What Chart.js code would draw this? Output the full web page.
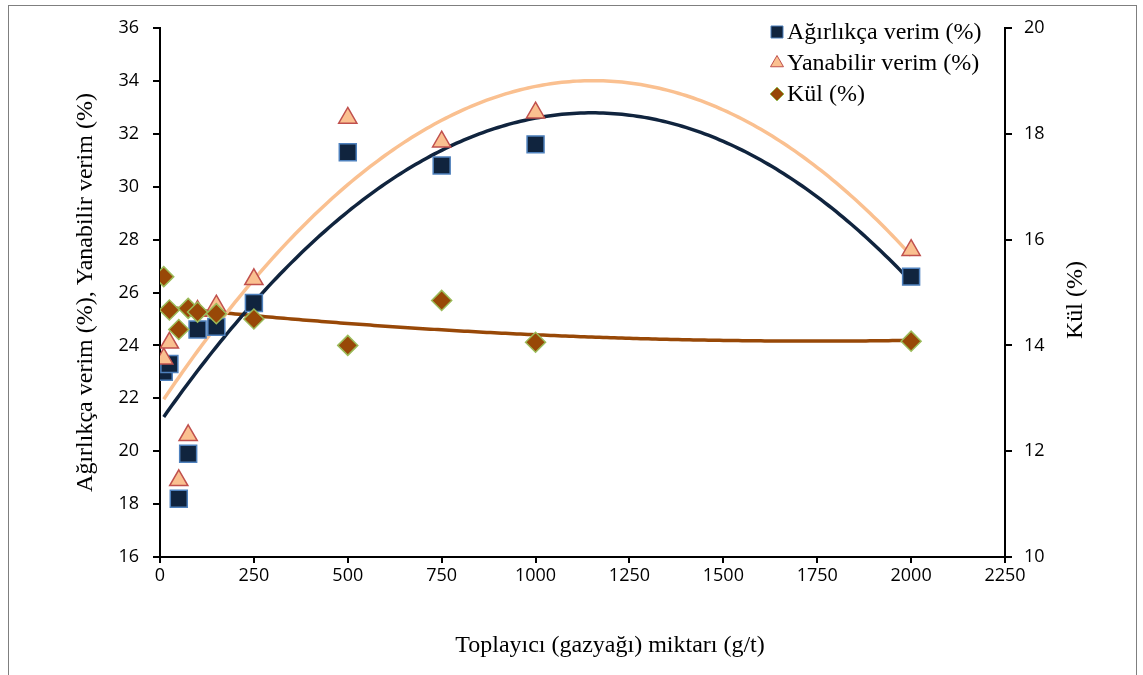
<!DOCTYPE html>
<html>
<head>
<meta charset="utf-8">
<script src="https://cdn.jsdelivr.net/npm/chart.js@4.4.0/dist/chart.umd.min.js"></script>
<style>
  html, body { margin: 0; padding: 0; background: #fff; }
  #wrap { width: 1143px; height: 675px; }
</style>
</head>
<body>
<div id="wrap"><canvas id="chart" width="1143" height="675"></canvas></div>
<script>
// collector dosage (g/t) and measured results
const doses = [10, 25, 50, 75, 100, 150, 250, 500, 750, 1000, 2000];
const massYield = [23.0, 23.3, 18.2, 19.9, 24.6, 24.7, 25.6, 31.3, 30.8, 31.6, 26.6];
const combYield = [23.5, 24.1, 18.9, 20.6, 25.3, 25.5, 26.5, 32.6, 31.7, 32.8, 27.6];
const ash = [15.3, 14.67, 14.3, 14.7, 14.63, 14.6, 14.5, 14.0, 14.85, 14.06, 14.08];

const xTicks = [0, 250, 500, 750, 1000, 1250, 1500, 1750, 2000, 2250];
const leftTicks = [16, 18, 20, 22, 24, 26, 28, 30, 32, 34, 36];
const rightTicks = [10, 12, 14, 16, 18, 20];

const seriesNames = ['Ağırlıkça verim (%)', 'Yanabilir verim (%)', 'Kül (%)'];
const xTitle = 'Toplayıcı (gazyağı) miktarı (g/t)';
const leftTitle = 'Ağırlıkça verim (%), Yanabilir verim (%)';
const rightTitle = 'Kül (%)';

const NAVY = '#10243E';
const PEACH = '#FAC090';
const BROWN = '#984807';
const SERIF = '"Liberation Serif", "Times New Roman", serif';

// second order least squares trendline, like the spreadsheet one
function polyFit2(xs, ys) {
  const s = [0, 0, 0, 0, 0], t = [0, 0, 0];
  xs.forEach((x0, i) => {
    const x = x0 / 1000;
    let p = 1;
    for (let k = 0; k < 5; k++) {
      s[k] += p;
      if (k < 3) t[k] += p * ys[i];
      p *= x;
    }
  });
  const m = [
    [s[0], s[1], s[2], t[0]],
    [s[1], s[2], s[3], t[1]],
    [s[2], s[3], s[4], t[2]]
  ];
  for (let c = 0; c < 3; c++) {
    for (let r = c + 1; r < 3; r++) {
      const f = m[r][c] / m[c][c];
      for (let k = c; k < 4; k++) m[r][k] -= f * m[c][k];
    }
  }
  const coef = [0, 0, 0];
  for (let r = 2; r >= 0; r--) {
    let v = m[r][3];
    for (let k = r + 1; k < 3; k++) v -= m[r][k] * coef[k];
    coef[r] = v / m[r][r];
  }
  return x0 => { const x = x0 / 1000; return coef[0] + coef[1] * x + coef[2] * x * x; };
}

function trend(ys) {
  const f = polyFit2(doses, ys);
  const pts = [];
  const lo = doses[0], hi = doses[doses.length - 1];
  for (let x = lo; x <= hi; x += 10) pts.push({ x, y: f(x) });
  return pts;
}

const toPts = ys => doses.map((x, i) => ({ x, y: ys[i] }));

// outer frame of the figure
const framePlugin = {
  id: 'frame',
  beforeDraw(chart) {
    const ctx = chart.ctx;
    ctx.save();
    ctx.fillStyle = '#fff';
    ctx.fillRect(0, 0, chart.width, chart.height);
    ctx.strokeStyle = '#7f7f7f';
    ctx.lineWidth = 1;
    ctx.strokeRect(8.5, 5.5, 1128, 700);
    ctx.restore();
  }
};

// bottom title and the right title (read upwards, same as the left one)
const titlesPlugin = {
  id: 'axisTitles',
  afterDraw(chart) {
    const ctx = chart.ctx;
    ctx.save();
    ctx.fillStyle = '#000';
    ctx.font = '24px ' + SERIF;
    ctx.textAlign = 'center';
    ctx.textBaseline = 'middle';
    ctx.fillText(xTitle, 610, 646);
    ctx.translate(1076, 300);
    ctx.rotate(-Math.PI / 2);
    ctx.fillText(rightTitle, 0, 0);
    ctx.restore();
  }
};

// legend box in the top right corner of the plot
const legendPlugin = {
  id: 'cornerLegend',
  afterDraw(chart) {
    const ctx = chart.ctx;
    const x0 = 777, y0 = 32, step = 31;
    ctx.save();
    ctx.font = '24px ' + SERIF;
    ctx.textBaseline = 'middle';
    const styles = [
      { pointStyle: 'rect', radius: 8.5, fill: NAVY, border: '#4F81BD' },
      { pointStyle: 'triangle', radius: 7.5, fill: PEACH, border: '#C0504D' },
      { pointStyle: 'rectRot', radius: 7, fill: BROWN, border: '#9BBB59' }
    ];
    styles.forEach((s, i) => {
      const y = y0 + i * step;
      ctx.fillStyle = s.fill;
      ctx.strokeStyle = s.border;
      Chart.helpers.drawPoint(ctx, { pointStyle: s.pointStyle, radius: s.radius, rotation: 0, borderWidth: 1 }, x0, y);
      ctx.fillStyle = '#000';
      ctx.fillText(seriesNames[i], x0 + 10, y + 1);
    });
    ctx.restore();
  }
};

const tickFont = { family: '"Open Sans", "Noto Sans", sans-serif', size: 18 };

new Chart(document.getElementById('chart'), {
  type: 'scatter',
  data: {
    datasets: [
      {
        label: seriesNames[0], data: toPts(massYield), yAxisID: 'y', order: 3,
        pointStyle: 'rect', pointRadius: 12, pointHoverRadius: 12,
        backgroundColor: NAVY, borderColor: '#4F81BD', borderWidth: 1.5
      },
      {
        label: seriesNames[1], data: toPts(combYield), yAxisID: 'y', order: 2,
        pointStyle: 'triangle', pointRadius: 10.5, pointHoverRadius: 10.5,
        backgroundColor: PEACH, borderColor: '#C0504D', borderWidth: 1.5
      },
      {
        label: seriesNames[2], data: toPts(ash), yAxisID: 'y2', order: 1,
        pointStyle: 'rectRot', pointRadius: 10, pointHoverRadius: 10,
        backgroundColor: BROWN, borderColor: '#9BBB59', borderWidth: 1.5
      },
      {
        label: 'trend1', data: trend(massYield), yAxisID: 'y', order: 10,
        showLine: true, pointRadius: 0, borderColor: NAVY, borderWidth: 3.5, tension: 0
      },
      {
        label: 'trend2', data: trend(combYield), yAxisID: 'y', order: 11,
        showLine: true, pointRadius: 0, borderColor: PEACH, borderWidth: 3.5, tension: 0
      },
      {
        label: 'trend3', data: trend(ash), yAxisID: 'y2', order: 12,
        showLine: true, pointRadius: 0, borderColor: BROWN, borderWidth: 3.5, tension: 0
      }
    ]
  },
  options: {
    responsive: false,
    animation: false,
    events: [],
    layout: { padding: { left: 71, right: 55, top: 28, bottom: 18 } },
    plugins: { legend: { display: false }, tooltip: { enabled: false } },
    scales: {
      x: {
        type: 'linear', min: 0, max: 2250,
        afterBuildTicks: s => { s.ticks = xTicks.map(v => ({ value: v })); },
        afterFit: s => { s.height = 100; },
        grid: { drawOnChartArea: false, color: '#000', lineWidth: 2, tickLength: 6 },
        border: { color: '#000', width: 2 },
        ticks: { color: '#000', font: tickFont, padding: 2, maxRotation: 0, callback: v => String(v) }
      },
      y: {
        type: 'linear', position: 'left', min: 16, max: 36,
        afterBuildTicks: s => { s.ticks = leftTicks.map(v => ({ value: v })); },
        afterFit: s => { s.width = 89; },
        grid: { drawOnChartArea: false, color: '#000', lineWidth: 2, tickLength: 7 },
        border: { color: '#000', width: 2 },
        ticks: { color: '#000', font: tickFont, padding: 14 },
        title: { display: true, text: leftTitle, color: '#000', font: { family: SERIF, size: 24 }, padding: 0 }
      },
      y2: {
        type: 'linear', position: 'right', min: 10, max: 20,
        afterBuildTicks: s => { s.ticks = rightTicks.map(v => ({ value: v })); },
        afterFit: s => { s.width = 83; },
        grid: { drawOnChartArea: false, color: '#000', lineWidth: 2, tickLength: 7 },
        border: { color: '#000', width: 2 },
        ticks: { color: '#000', font: tickFont, padding: 12 }
      }
    }
  },
  plugins: [framePlugin, titlesPlugin, legendPlugin]
});
</script>
</body>
</html>
